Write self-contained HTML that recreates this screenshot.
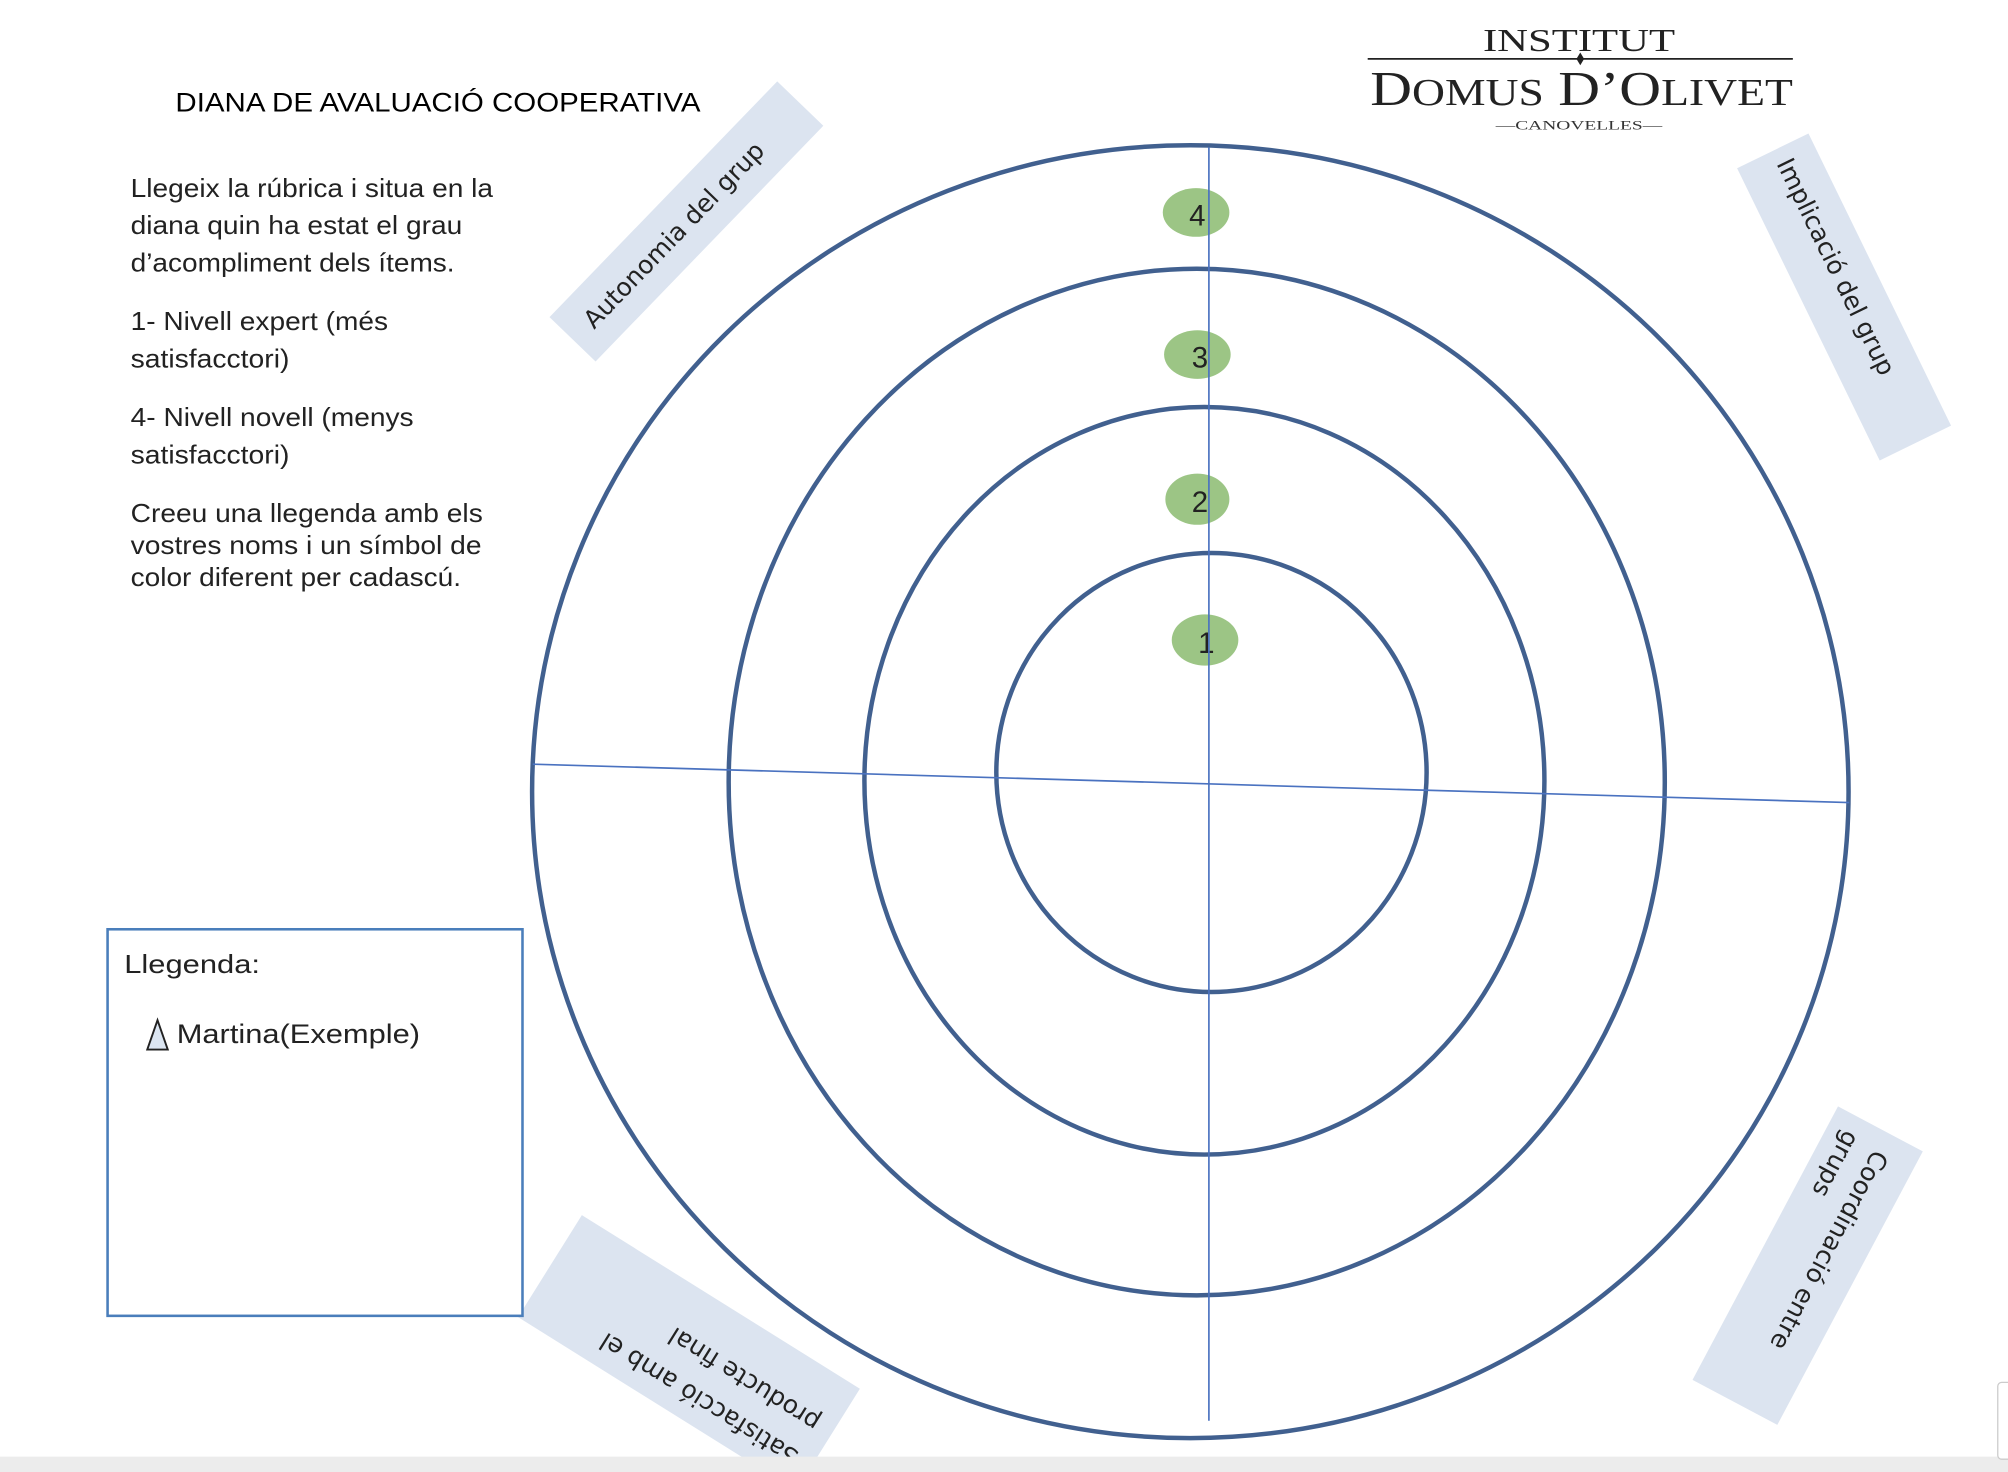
<!DOCTYPE html>
<html><head><meta charset="utf-8"><style>
html,body{margin:0;padding:0;background:#fff;}
svg{display:block;}
</style></head><body>
<svg width="2008" height="1472" viewBox="0 0 1568 1150" preserveAspectRatio="none" xmlns="http://www.w3.org/2000/svg" font-family="Liberation Sans, sans-serif">
<rect width="1568" height="1150" fill="#fff"/>
<!-- title -->
<text x="137" y="87" font-size="21" fill="#000" textLength="410" lengthAdjust="spacingAndGlyphs">DIANA DE AVALUACIÓ COOPERATIVA</text>
<g font-size="20" fill="#222" lengthAdjust="spacingAndGlyphs">
<text x="102" y="154" textLength="283" lengthAdjust="spacingAndGlyphs">Llegeix la rúbrica i situa en la</text>
<text x="102" y="183" textLength="259" lengthAdjust="spacingAndGlyphs">diana quin ha estat el grau</text>
<text x="102" y="212" textLength="253" lengthAdjust="spacingAndGlyphs">d’acompliment dels ítems.</text>
<text x="102" y="258" textLength="201" lengthAdjust="spacingAndGlyphs">1- Nivell expert (més</text>
<text x="102" y="287" textLength="124" lengthAdjust="spacingAndGlyphs">satisfacctori)</text>
<text x="102" y="333" textLength="221" lengthAdjust="spacingAndGlyphs">4- Nivell novell (menys</text>
<text x="102" y="362" textLength="124" lengthAdjust="spacingAndGlyphs">satisfacctori)</text>
<text x="102" y="408" textLength="275" lengthAdjust="spacingAndGlyphs">Creeu una llegenda amb els</text>
<text x="102" y="433" textLength="274" lengthAdjust="spacingAndGlyphs">vostres noms i un símbol de</text>
<text x="102" y="458" textLength="258" lengthAdjust="spacingAndGlyphs">color diferent per cadascú.</text>
</g>
<!-- logo -->
<text x="1158" y="40" font-family="Liberation Serif, serif" font-size="25" fill="#222" textLength="150" lengthAdjust="spacingAndGlyphs">INSTITUT</text>
<line x1="1068" y1="46" x2="1400" y2="46" stroke="#222" stroke-width="1.3"/>
<path d="M1234 41 L1237 46 L1234 51 L1231 46Z" fill="#222"/>
<text x="1070" y="82" font-family="Liberation Serif, serif" font-size="38" fill="#222" textLength="330" lengthAdjust="spacingAndGlyphs">D<tspan font-size="30">OMUS</tspan> D’O<tspan font-size="30">LIVET</tspan></text>
<text x="1168" y="101" font-family="Liberation Serif, serif" font-size="10" fill="#333" textLength="130" lengthAdjust="spacingAndGlyphs">—CANOVELLES—</text>
<!-- rings -->
<g fill="none" stroke="#41608f" stroke-width="3.5">
<ellipse cx="929.5" cy="618.5" rx="514" ry="505"/>
<ellipse cx="934.5" cy="611" rx="365.5" ry="401"/>
<ellipse cx="940.5" cy="610" rx="265.5" ry="292"/>
<ellipse cx="946" cy="603.5" rx="168" ry="171.5"/>
</g>
<!-- level dots -->
<g fill="#9cc585">
<ellipse cx="934" cy="166" rx="26" ry="19"/>
<ellipse cx="935" cy="277" rx="26" ry="19"/>
<ellipse cx="935" cy="390" rx="25" ry="20"/>
<ellipse cx="941" cy="500" rx="26" ry="20"/>
</g>
<g font-size="23" fill="#222" text-anchor="middle">
<text x="935" y="176">4</text>
<text x="937" y="287">3</text>
<text x="937" y="400">2</text>
<text x="942" y="510">1</text>
</g>
<!-- axes -->
<line x1="944" y1="115" x2="944" y2="1110" stroke="#4a72c0" stroke-width="1.3"/>
<line x1="416" y1="597" x2="1444" y2="627" stroke="#4a72c0" stroke-width="1.3"/>
<!-- label boxes -->
<g font-size="19.5" fill="#222" font-family="DejaVu Sans, Liberation Sans, sans-serif">
<g transform="translate(536,173) rotate(-46)">
<rect x="-128" y="-25" width="256" height="50" fill="#dce4f0"/>
<text x="-111" y="7">Autonomia del  grup</text>
</g>
<g transform="translate(1440,232) rotate(64)">
<rect x="-127" y="-31" width="254" height="62" fill="#dce4f0"/>
<text x="-117" y="2">Implicació del grup</text>
</g>
<g transform="translate(1412,989) rotate(118)">
<rect x="-121" y="-37" width="242" height="75" fill="#dce4f0"/>
<text x="-105" y="-2">Coordinació entre</text>
<text x="-108" y="25">grups</text>
</g>
<g transform="translate(538,1057) rotate(212)">
<rect x="-128" y="-47" width="256" height="94" fill="#dce4f0"/>
<text x="-115" y="-20">Satisfacció amb el</text>
<text x="-115" y="12">producte final</text>
</g>
</g>
<!-- legend -->
<rect x="84" y="726" width="324" height="302" fill="#fff" stroke="#4a7ebb" stroke-width="2"/>
<text x="97" y="760" font-size="20" fill="#222" textLength="106" lengthAdjust="spacingAndGlyphs">Llegenda:</text>
<path d="M123 797 L131 820 L115 820Z" fill="#dce6f2" stroke="#222" stroke-width="1.5"/>
<text x="138" y="815" font-size="21" fill="#222" textLength="190" lengthAdjust="spacingAndGlyphs">Martina(Exemple)</text>
<!-- bottom bar -->
<rect x="0" y="1138" width="1568" height="12" fill="#ececec"/>
<rect x="1560" y="1080" width="12" height="60" rx="3" fill="#fff" stroke="#ccc"/>
</svg>
</body></html>
